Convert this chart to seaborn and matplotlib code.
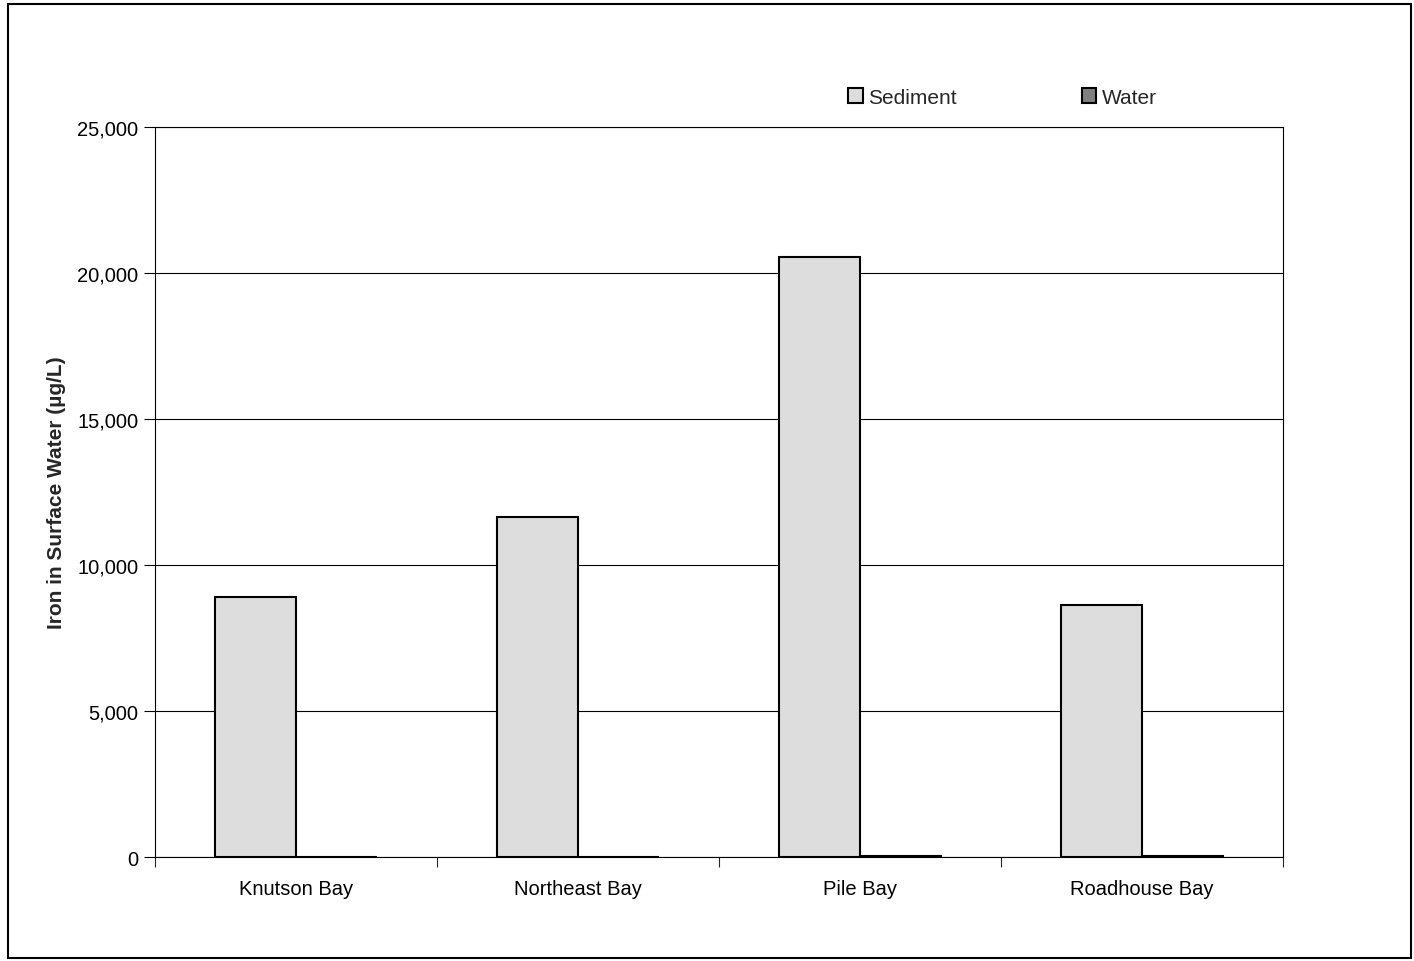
import numpy as np
import pandas as pd
import seaborn as sns
import matplotlib.pyplot as plt
from matplotlib.patches import Rectangle, Patch
from matplotlib.ticker import FuncFormatter, FixedLocator

sites = ["Knutson Bay", "Northeast Bay", "Pile Bay", "Roadhouse Bay"]
sediment = [8900, 11650, 20550, 8630]
water = [5, 5, 50, 40]
series = ["Sediment", "Water"]
colors = {"Sediment": "#dddddd", "Water": "#808080"}

df = pd.DataFrame({
    "site": sites * 2,
    "value": sediment + water,
    "kind": ["Sediment"] * 4 + ["Water"] * 4,
})

sns.set_style("white")
plt.rcParams['font.family'] = ['Liberation Sans', 'DejaVu Sans']

fig = plt.figure(figsize=(14.14, 9.62), dpi=100)
ax = fig.add_axes([0.1096, 0.1081, 0.9074 - 0.1096, 0.867 - 0.1081])

sns.barplot(data=df, x="site", y="value", hue="kind", palette=colors,
            width=0.575, edgecolor="black", linewidth=1.5, ax=ax,
            legend=False, zorder=3)

ax.set_ylim(0, 25000)
ax.set_xlim(-0.5, 3.5)
ax.set_yticks(np.arange(0, 25001, 5000))
ax.yaxis.set_major_formatter(FuncFormatter(lambda v, p: f"{int(v):,}"))
ax.yaxis.grid(True, color="black", linewidth=0.8, zorder=0)
ax.set_axisbelow(True)

for s in ["left", "bottom", "right", "top"]:
    ax.spines[s].set_visible(True)
    ax.spines[s].set_color("black")
    ax.spines[s].set_linewidth(0.8)

ax.tick_params(axis="both", labelsize=14.5, colors="black")
ax.tick_params(axis="y", left=True, length=8, width=0.8, direction="out", pad=4)
ax.tick_params(axis="x", bottom=False, pad=12)
ax.xaxis.set_minor_locator(FixedLocator([-0.5, 0.5, 1.5, 2.5, 3.5]))
ax.tick_params(axis="x", which="minor", bottom=True, length=7, width=0.8, direction="out")

ax.set_xlabel("")
ax.set_ylabel("Iron in Surface Water (µg/L)", fontsize=15, fontweight="bold", labelpad=8)

handles = [Patch(facecolor=colors[k], edgecolor="black", linewidth=1.5) for k in series]
fig.legend(handles, series, loc="center", bbox_to_anchor=(0.709, 0.898), ncol=2,
           frameon=False, fontsize=15, handlelength=0.7, handleheight=0.7,
           handletextpad=0.25, columnspacing=6.0)

fig.patches.append(Rectangle((0.006, 0.003), 0.992, 0.992, transform=fig.transFigure,
                             fill=False, edgecolor="black", linewidth=1.5))

fig.savefig("out.png", dpi=100)
